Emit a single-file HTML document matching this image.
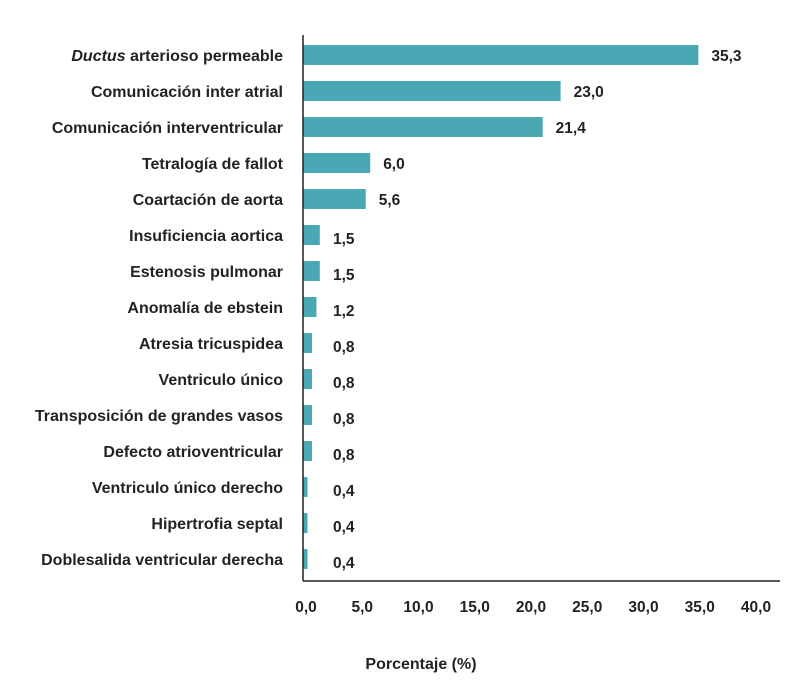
<!DOCTYPE html>
<html><head><meta charset="utf-8"><style>
body{margin:0;background:#fff;}
svg{display:block;font-family:"Liberation Sans",sans-serif;}
</style></head><body>
<svg id="c" width="801" height="688"></svg>
<script>
const categories=["Ductus arterioso permeable","Comunicación inter atrial","Comunicación interventricular","Tetralogía de fallot","Coartación de aorta","Insuficiencia aortica","Estenosis pulmonar","Anomalía de ebstein","Atresia tricuspidea","Ventriculo único","Transposición de grandes vasos","Defecto atrioventricular","Ventriculo único derecho","Hipertrofia septal","Doblesalida ventricular derecha"];
const values=[35.3,23.0,21.4,6.0,5.6,1.5,1.5,1.2,0.8,0.8,0.8,0.8,0.4,0.4,0.4];
const valueLabels=["35,3","23,0","21,4","6,0","5,6","1,5","1,5","1,2","0,8","0,8","0,8","0,8","0,4","0,4","0,4"];
const ticks=[0,5,10,15,20,25,30,35,40];
const tickLabels=["0,0","5,0","10,0","15,0","20,0","25,0","30,0","35,0","40,0"];
const NS="http://www.w3.org/2000/svg";
const svg=document.getElementById('c');
const x0=303,scale=11.2,y0=55,step=36,bh=20;
const xs=v=>x0+v*scale;
const ys=i=>y0+i*step;
function mk(t,a,txt){const e=document.createElementNS(NS,t);for(const k in a)e.setAttribute(k,a[k]);if(txt!==undefined)e.textContent=txt;svg.appendChild(e);return e;}
categories.forEach((c,i)=>{
 const b=mk('rect',{x:x0,y:ys(i)-bh/2,width:values[i]*scale,height:bh,fill:'#4aa8b5'});
 
 
 const l=mk('text',{x:283,y:ys(i)+6,'text-anchor':'end','font-size':'16','font-weight':'bold',fill:'#222'});
 
 
 if(i===0){const s=document.createElementNS(NS,'tspan');s.setAttribute('font-style','italic');s.textContent='Ductus';l.appendChild(s);l.appendChild(document.createTextNode(' arterioso permeable'));}
 else l.textContent=c;
 const vx=Math.max(xs(values[i])+13,333);
 const v=mk('text',{x:vx,y:ys(i)+(values[i]<5?9:6),'font-size':'15.5','font-weight':'bold',fill:'#222'},valueLabels[i]);
 
 
});
const ax=mk('line',{x1:x0,y1:35,x2:x0,y2:581,stroke:'#222','stroke-width':1.5});


const bx=mk('line',{x1:x0,y1:581,x2:780,y2:581,stroke:'#222','stroke-width':1.5});


ticks.forEach((t,i)=>{
 const e=mk('text',{x:xs(t)+3+t*0.05,y:612,'text-anchor':'middle','font-size':'15.5','font-weight':'bold',fill:'#222'},tickLabels[i]);
 
 
});
const tt=mk('text',{x:421,y:669,'text-anchor':'middle','font-size':'16','font-weight':'bold',fill:'#222'},'Porcentaje (%)');


</script>
</body></html>
